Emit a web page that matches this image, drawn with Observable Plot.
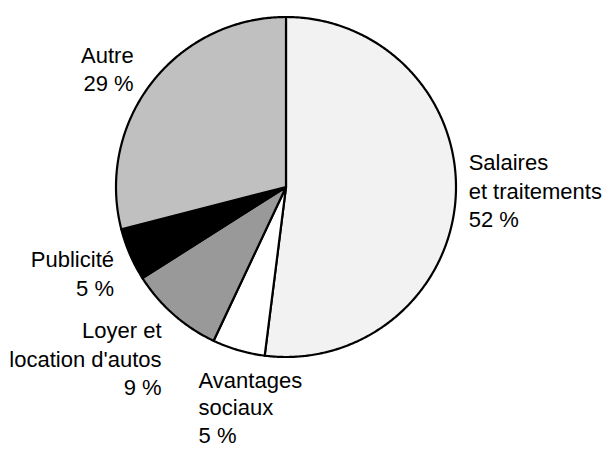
<!DOCTYPE html>
<html>
<head>
<meta charset="utf-8">
<script src="https://cdn.jsdelivr.net/npm/d3@7"></script>
<script src="https://cdn.jsdelivr.net/npm/@observablehq/plot@0.6"></script>
<style>
  html, body { margin: 0; padding: 0; background: #fff; }
</style>
</head>
<body>
<div id="chart"></div>
<script>
// Data
const categories = ["Salaires\net traitements", "Avantages\nsociaux", "Loyer et\nlocation d'autos", "Publicité", "Autre"];
const shares = [52, 5, 9, 5, 29];

// Styles
const sliceColors = ["#f2f2f2", "#ffffff", "#999999", "#000000", "#c0c0c0"];
const labelAnchors = ["start", "start", "end", "end", "end"];
const labelDx = [13, -40, -12, -16, -18];
const labelDy = [-8, 56, 43, 18, -15];
const labelLineHeight = [1.3, 1.25, 1.3, 1.3, 1.3];

const pie = d3.pie().sort(null).value(d => d)(shares);

// Build slice outlines in unit-circle coordinates
const slicePts = [];
pie.forEach((s, i) => {
  const name = categories[i];
  slicePts.push({name, x: 0, y: 0});
  const steps = Math.max(2, Math.ceil((s.endAngle - s.startAngle) / (Math.PI / 360)));
  for (let k = 0; k <= steps; k++) {
    const a = s.startAngle + (s.endAngle - s.startAngle) * k / steps;
    slicePts.push({name, x: Math.sin(a), y: Math.cos(a)});
  }
  slicePts.push({name, x: 0, y: 0});
});

const labels = pie.map((s, i) => {
  const mid = (s.startAngle + s.endAngle) / 2;
  return {
    text: `${categories[i]}\n${shares[i]} %`,
    x: Math.sin(mid), y: Math.cos(mid),
    anchor: labelAnchors[i], dx: labelDx[i], dy: labelDy[i], lh: labelLineHeight[i]
  };
});

const W = 607, H = 450, R = 170, cx = 285.5, cy = 186.5;

const chart = Plot.plot({
  width: W,
  height: H,
  marginLeft: cx - R,
  marginRight: W - (cx + R),
  marginTop: cy - R,
  marginBottom: H - (cy + R),
  x: {domain: [-1, 1], axis: null},
  y: {domain: [-1, 1], axis: null},
  color: {domain: categories, range: sliceColors},
  style: {fontFamily: "'Liberation Sans', Arial, sans-serif", background: "#fff"},
  marks: [
    Plot.line(slicePts, {
      x: "x", y: "y", z: "name", fill: "name",
      stroke: "#000", strokeWidth: 2.2, strokeLinejoin: "round"
    }),
    ...labels.map(l => Plot.text([l], {
      x: "x", y: "y", text: "text",
      textAnchor: l.anchor, lineAnchor: "middle",
      dx: l.dx, dy: l.dy,
      fontSize: 22, lineHeight: l.lh, fill: "#000",
      fontFamily: "'Liberation Sans', Arial, sans-serif"
    }))
  ]
});

document.getElementById("chart").appendChild(chart);
</script>
</body>
</html>
